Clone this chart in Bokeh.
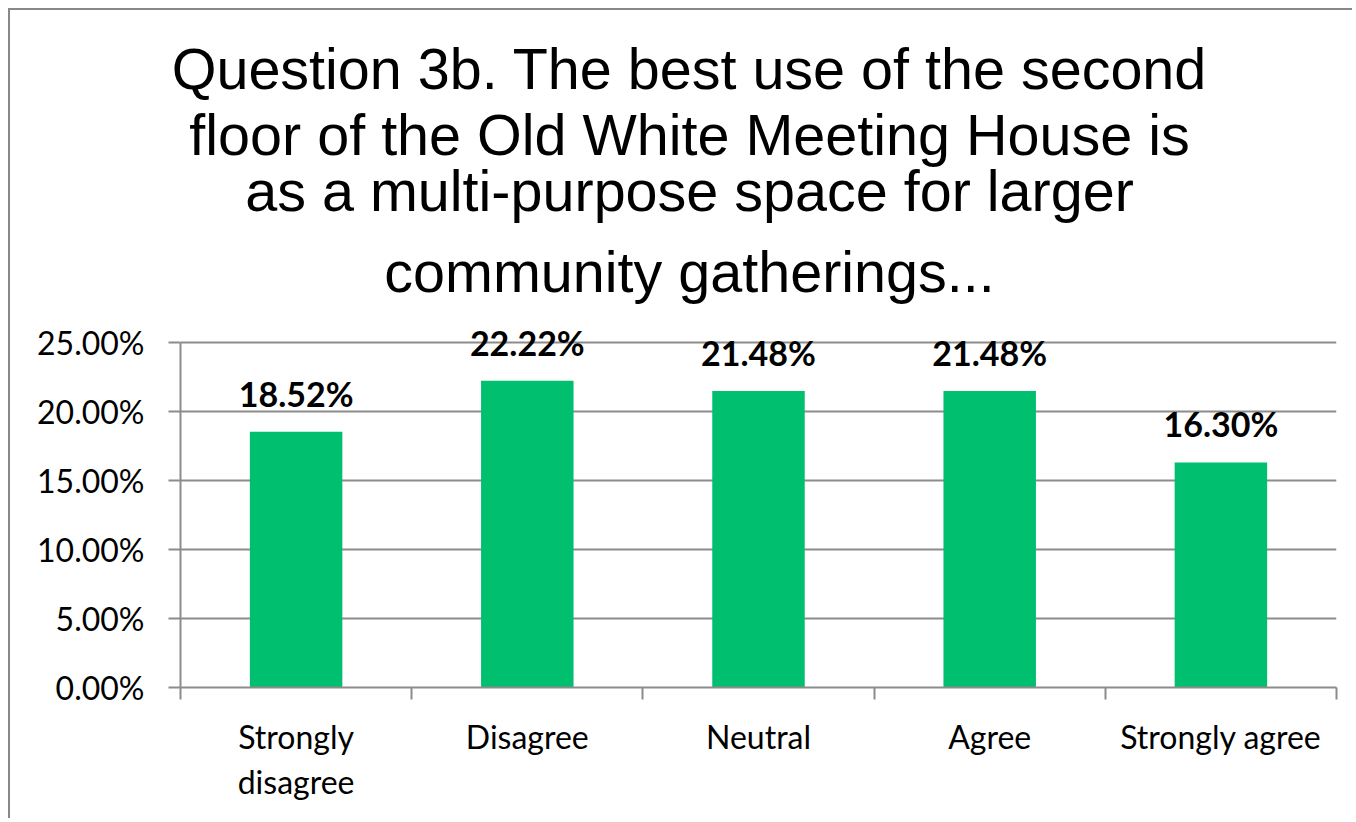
from bokeh.plotting import figure
from bokeh.models import Range1d, FixedTicker, LabelSet, Title, ColumnDataSource, PrintfTickFormatter
from bokeh.core.properties import value
from bokeh.embed import file_html
from bokeh.resources import INLINE

title_lines = ["Question 3b. The best use of the second",
               "floor of the Old White Meeting House is",
               "as a multi-purpose space for larger",
               "community gatherings..."]
categories = ["Strongly disagree", "Disagree", "Neutral", "Agree", "Strongly agree"]
tick_labels = ["Strongly\ndisagree", "Disagree", "Neutral", "Agree", "Strongly agree"]
values = [18.52, 22.22, 21.48, 21.48, 16.30]
y_ticks = [0, 5, 10, 15, 20, 25]

GRAY = "#8c8c8c"
GREEN = "#00BF6F"
TICK_FONT = "Lato"
TITLE_FONT = "Liberation Sans"
TITLE_SIZE = 57.5

# Liberation Sans (Arial-metric) advance widths per 1000 em, used to centre each title line
ARIAL_W = {" ": 278, ".": 278, "-": 333, "3": 556, "Q": 778, "T": 611, "O": 778, "W": 944,
           "M": 833, "H": 722, "a": 556, "b": 556, "c": 500, "d": 556, "e": 556, "f": 278,
           "g": 556, "h": 556, "i": 222, "l": 222, "m": 833, "n": 556, "o": 556, "p": 556,
           "r": 333, "s": 500, "t": 278, "u": 556, "y": 500}

def text_width(s):
    return sum(ARIAL_W.get(ch, 556) for ch in s) * TITLE_SIZE / 1000.0

n = len(categories)
centers = [i + 0.5 for i in range(n)]
bounds = list(range(n + 1))

src = ColumnDataSource(dict(
    x=centers, top=values, cat=categories,
    label=["%.2f%%" % v for v in values],
))

p = figure(width=1344, height=810, output_backend="svg", toolbar_location=None,
           x_range=Range1d(0, n), y_range=Range1d(0, 26),
           min_border_left=170, min_border_right=18, min_border_top=318, min_border_bottom=133,
           styles={"margin-left": "8px", "margin-top": "8px",
                   "border-left": "2px solid #888888", "border-top": "2px solid #888888"})
p.outline_line_color = None
p.background_fill_color = "white"
p.border_fill_color = "white"

# title lines: nearest the plot first, each centred on the chart area (not the plot frame)
TITLE_CENTER_FROM_FRAME = 509
TITLE_STANDOFFS = [49, -19, 0, 0]   # line 4 (nearest plot) ... line 1
for i, line in enumerate(reversed(title_lines)):
    t = Title(text=line, align="left",
              offset=TITLE_CENTER_FROM_FRAME - text_width(line) / 2.0,
              text_font=TITLE_FONT, text_font_style="normal",
              text_font_size="%gpx" % TITLE_SIZE, text_color="black",
              text_line_height=1.0, vertical_align="bottom",
              standoff=TITLE_STANDOFFS[i])
    p.add_layout(t, "above")

p.vbar(x="x", top="top", width=0.4, source=src, fill_color=GREEN, line_color=None)

labels = LabelSet(x="x", y="top", text="label", source=src, text_align="center",
                  text_baseline="alphabetic", y_offset=25, text_font=value(TICK_FONT),
                  text_font_style="bold", text_font_size="34px", text_color="black")
p.add_layout(labels)

# y axis
p.yaxis.ticker = FixedTicker(ticks=y_ticks)
p.yaxis.bounds = (y_ticks[0], y_ticks[-1])
p.yaxis.formatter = PrintfTickFormatter(format="%.2f%%")
p.yaxis.axis_line_color = GRAY
p.yaxis.axis_line_width = 2
p.yaxis.major_tick_line_color = GRAY
p.yaxis.major_tick_line_width = 2
p.yaxis.major_tick_out = 12
p.yaxis.major_tick_in = 0
p.yaxis.minor_tick_line_color = None
p.yaxis.major_label_standoff = 24
p.yaxis.major_label_text_font = TICK_FONT
p.yaxis.major_label_text_font_size = "32px"
p.yaxis.major_label_text_color = "black"

# x axis
p.xaxis.ticker = FixedTicker(ticks=centers, minor_ticks=bounds)
p.xaxis.major_label_overrides = {c: t for c, t in zip(centers, tick_labels)}
p.xaxis.axis_line_color = GRAY
p.xaxis.axis_line_width = 2
p.xaxis.major_tick_line_color = None
p.xaxis.major_tick_out = 0
p.xaxis.major_tick_in = 0
p.xaxis.minor_tick_line_color = GRAY
p.xaxis.minor_tick_line_width = 2
p.xaxis.minor_tick_out = 12
p.xaxis.minor_tick_in = 0
p.xaxis.major_label_standoff = 17
p.xaxis.major_label_text_font = TICK_FONT
p.xaxis.major_label_text_font_size = "32px"
p.xaxis.major_label_text_color = "black"
p.xaxis.major_label_text_line_height = 1.17

p.xgrid.grid_line_color = None
p.ygrid.ticker = FixedTicker(ticks=y_ticks)
p.ygrid.grid_line_color = GRAY
p.ygrid.grid_line_width = 2

open("out.html", "w").write(file_html(p, INLINE))
